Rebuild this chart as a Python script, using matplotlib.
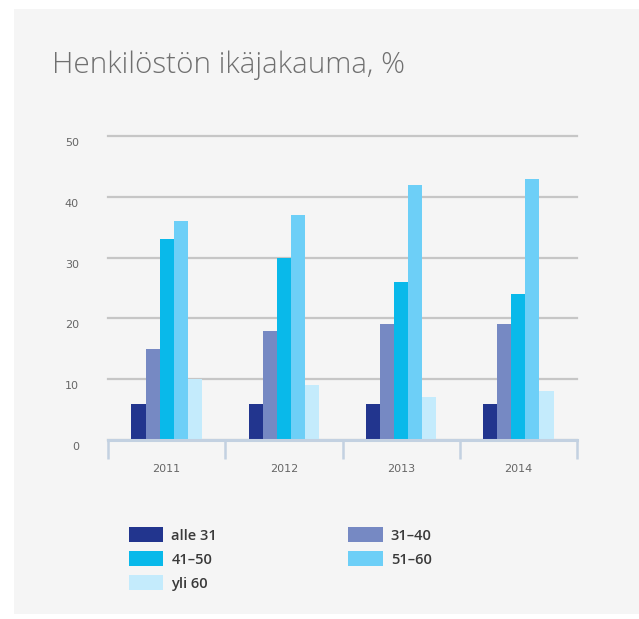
import matplotlib
matplotlib.use("Agg")
import matplotlib.pyplot as plt
import matplotlib.transforms as mtransforms
from matplotlib.patches import Rectangle
import numpy as np

years = ["2011", "2012", "2013", "2014"]
series_names = ["alle 31", "31–40", "41–50", "51–60", "yli 60"]
alle31 = [6, 6, 6, 6]
v31_40 = [15, 18, 19, 19]
v41_50 = [33, 30, 26, 24]
v51_60 = [36, 37, 42, 43]
yli60 = [10, 9, 7, 8]
series_values = [alle31, v31_40, v41_50, v51_60, yli60]
colors = ["#22358e", "#7689c3", "#09b9ea", "#6dcff7", "#c4ebfc"]
yticks = [0, 10, 20, 30, 40, 50]

W, H = 639, 619
fig = plt.figure(figsize=(W / 100, H / 100), dpi=100, facecolor="white")

def fx(px):
    return px / W

def fy(py):
    return 1 - py / H

# background panel
fig.patches.append(Rectangle((fx(14), fy(614)), fx(639) - fx(14), fy(9) - fy(614),
                             transform=fig.transFigure, facecolor="#f5f5f5",
                             edgecolor="none", zorder=-10))

fig.text(fx(52), fy(73), "Henkilöstön ikäjakauma, %", fontsize=21.3,
         family="Open Sans", fontweight="light", color="#707070",
         ha="left", va="baseline", zorder=5)

ax = fig.add_axes([fx(108), fy(440), fx(577) - fx(108), fy(136) - fy(440)])
ax.set_facecolor("none")
ax.set_zorder(2)

x = np.arange(len(years))
bw = 0.12
n = len(series_names)
handles = []
for i, (name, vals, c) in enumerate(zip(series_names, series_values, colors)):
    b = ax.bar(x + (i - (n - 1) / 2) * bw, vals, width=bw, color=c, label=name,
               zorder=3, linewidth=0)
    handles.append(b)

ax.set_xlim(-0.5, 3.5)
ax.set_ylim(0, 50)
ax.set_yticks(yticks)
ax.set_yticklabels([str(t) for t in yticks])
ax.yaxis.grid(True, color="#c6c6c6", linewidth=1.6, zorder=1)
for gl in ax.get_ygridlines():
    gl.set_clip_on(False)
ax.set_axisbelow(True)
ax.tick_params(axis="y", length=0, pad=21, labelsize=8, labelcolor="#666666")
for lab in ax.get_yticklabels():
    lab.set_transform(lab.get_transform() + mtransforms.ScaledTranslation(0, -6 / 100, fig.dpi_scale_trans))

ax.set_xticks(x)
ax.set_xticklabels(years)
ax.tick_params(axis="x", length=0, pad=17, labelsize=8, labelcolor="#666666")
ax.set_xticks(np.arange(-0.5, 4.0, 1.0), minor=True)
ax.tick_params(axis="x", which="minor", length=13.5, width=1.8, color="#c3d1e1", direction="out")

for s in ["top", "right", "left"]:
    ax.spines[s].set_visible(False)
ax.spines["bottom"].set_color("#c3d1e1")
ax.spines["bottom"].set_linewidth(2.2)
ax.spines["bottom"].set_zorder(4)

# legend: column-major order
order = [0, 2, 4, 1, 3]
leg = fig.legend([handles[i] for i in order], [series_names[i] for i in order],
                 ncol=2, loc="upper left", bbox_to_anchor=(fx(116), fy(514)),
                 frameon=False, handlelength=2.35, handleheight=1.2,
                 handletextpad=0.55, labelspacing=0.6, columnspacing=9.0,
                 prop={"family": "Open Sans", "weight": "semibold", "size": 10.5})
for t in leg.get_texts():
    t.set_color("#3a3a3a")

fig.savefig("out.png", dpi=100, facecolor="white")
